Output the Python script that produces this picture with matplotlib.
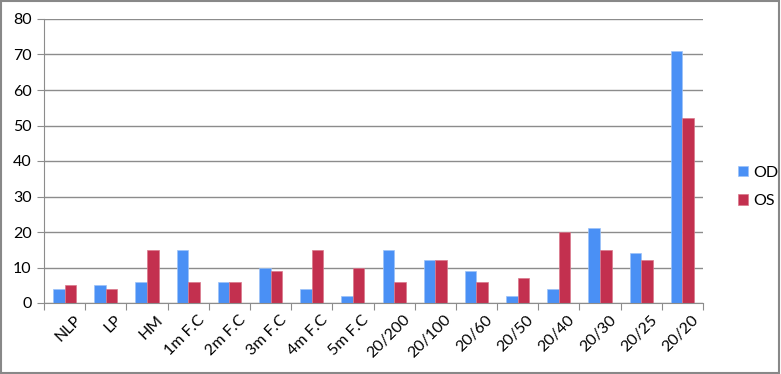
import numpy as np
import matplotlib.pyplot as plt
from matplotlib.patches import Rectangle
from matplotlib.transforms import ScaledTranslation

categorias = ['NLP', 'LP', 'HM', '1m F.C', '2m F.C', '3m F.C', '4m F.C', '5m F.C',
              '20/200', '20/100', '20/60', '20/50', '20/40', '20/30', '20/25', '20/20']
od = [4, 5, 6, 15, 6, 10, 4, 2, 15, 12, 9, 2, 4, 21, 14, 71]
os_ = [5, 4, 15, 6, 6, 9, 15, 10, 6, 12, 6, 7, 20, 15, 12, 52]

plt.rcParams['font.family'] = ['Lato', 'DejaVu Sans']

fig = plt.figure(figsize=(7.81, 3.74), dpi=100)
ax = fig.add_axes([44/781, 1 - 303/374, (703-44)/781, (303-19)/374])

x = np.arange(len(categorias))
ancho = 0.28
ax.bar(x - ancho/2, od, ancho, color='#4a90f5', edgecolor='#9cc2f8', linewidth=0.5, label='OD')
ax.bar(x + ancho/2, os_, ancho, color='#c3304f', edgecolor='#d9788c', linewidth=0.5, label='OS')

ax.set_xlim(-0.5, len(categorias) - 0.5)
ax.set_ylim(0, 80)
ax.set_yticks(range(0, 81, 10))
ax.yaxis.grid(True, color='#8c8c8c', linewidth=1)
ax.set_axisbelow(True)
for s in ['top', 'right']:
    ax.spines[s].set_visible(False)
ax.spines['left'].set_color('#8c8c8c')
ax.spines['bottom'].set_color('#8c8c8c')

# marcas entre categorias, etiquetas en el centro
ax.set_xticks(np.arange(len(categorias) + 1) - 0.5)
ax.set_xticklabels([])
ax.set_xticks(x, minor=True)
ax.set_xticklabels(categorias, minor=True, rotation=45, ha='right',
                   rotation_mode='anchor', fontsize=11.5)
ax.tick_params(axis='x', which='minor', length=0, pad=7)
ax.tick_params(axis='x', which='major', length=5, color='#8c8c8c', direction='out')
ax.tick_params(axis='y', length=5, color='#8c8c8c', labelsize=11.5, pad=4)
for lbl in ax.get_xticklabels(minor=True):
    lbl.set_transform(lbl.get_transform() + ScaledTranslation(9/100, 0, fig.dpi_scale_trans))

fig.legend(loc='center left', bbox_to_anchor=(724/781, 1 - 187/374), frameon=False,
           fontsize=11.5, handlelength=0.6, handleheight=0.6, handletextpad=0.3,
           labelspacing=0.9)

fig.patches.append(Rectangle((0.001, 0.002), 0.997, 0.995, transform=fig.transFigure,
                             fill=False, edgecolor='#888888', linewidth=1.5))

fig.savefig('out.png', dpi=100)
